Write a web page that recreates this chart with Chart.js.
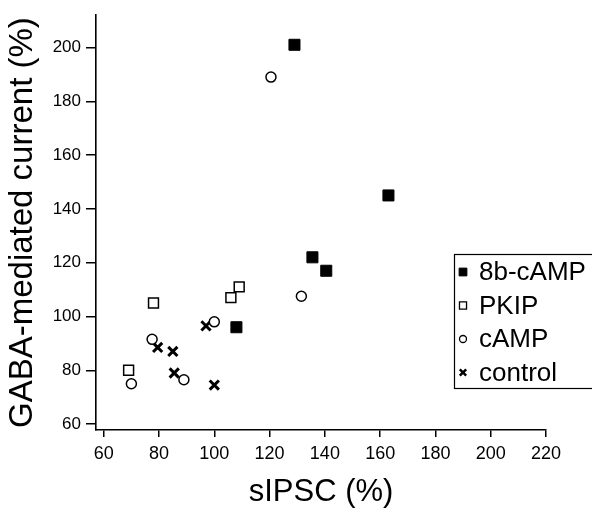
<!DOCTYPE html>
<html>
<head>
<meta charset="utf-8">
<script src="https://cdn.jsdelivr.net/npm/chart.js"></script>
<style>
  body { margin: 0; background: #fff; }
  #wrap { width: 592px; height: 512px; position: relative; }
</style>
</head>
<body>
<div id="wrap"><canvas id="chart"></canvas></div>
<script>
// values
const seriesNames = ["8b-cAMP", "PKIP", "cAMP", "control"];
const camp8bX = [129, 163, 135.5, 140.5, 108];
const camp8bY = [201, 145, 122, 117, 96];
const pkipX = [69, 78, 106, 109];
const pkipY = [80, 105, 107, 111];
const campX = [120.5, 70, 77.5, 89, 100, 131.5];
const campY = [189, 75, 91.5, 76.5, 98, 107.5];
const controlX = [79.5, 85, 85.5, 97, 100];
const controlY = [88.5, 87, 79, 96.5, 74.5];
const xTicks = [60, 80, 100, 120, 140, 160, 180, 200, 220];
const yTicks = [60, 80, 100, 120, 140, 160, 180, 200];

const FONT = "'Liberation Sans', Arial, Helvetica, sans-serif";

function pairs(xs, ys) {
  return xs.map((x, i) => ({ x: x, y: ys[i] }));
}

// legend drawn inside the plot, boxed, like the original (right edge runs off the page)
const boxLegend = {
  id: "boxLegend",
  afterDraw(chart) {
    const ctx = chart.ctx;
    const left = 454, top = 254, right = 596, bottom = 389;
    ctx.save();
    ctx.fillStyle = "#fff";
    ctx.fillRect(left, top, right - left, bottom - top);
    ctx.strokeStyle = "#000";
    ctx.lineWidth = 1.2;
    ctx.strokeRect(left + 0.5, top + 0.5, right - left - 1, bottom - top - 1);

    chart.data.datasets.forEach((ds, i) => {
      const y = top + 18 + i * 33.5;
      ctx.fillStyle = ds.backgroundColor;
      ctx.strokeStyle = ds.borderColor;
      ctx.lineWidth = ds.legendBorder;
      Chart.helpers.drawPoint(ctx, {
        pointStyle: ds.pointStyle,
        radius: ds.legendRadius,
        rotation: 0,
        borderWidth: ds.legendBorder
      }, 463, y);

      ctx.fillStyle = "#000";
      ctx.font = "26px " + FONT;
      ctx.textAlign = "left";
      ctx.textBaseline = "middle";
      ctx.fillText(ds.label, 479, y + 1);
    });
    ctx.restore();
  }
};

new Chart(document.getElementById("chart"), {
  type: "scatter",
  data: {
    datasets: [
      {
        label: seriesNames[0],
        data: pairs(camp8bX, camp8bY),
        pointStyle: "rect",
        pointRadius: 7.8,
        borderWidth: 1,
        borderColor: "#000",
        backgroundColor: "#000",
        legendRadius: 5.5,
        legendBorder: 1
      },
      {
        label: seriesNames[1],
        data: pairs(pkipX, pkipY),
        pointStyle: "rect",
        pointRadius: 7,
        borderWidth: 1.5,
        borderColor: "#000",
        backgroundColor: "#fff",
        legendRadius: 5,
        legendBorder: 1.3
      },
      {
        label: seriesNames[2],
        data: pairs(campX, campY),
        pointStyle: "circle",
        pointRadius: 5,
        borderWidth: 1.5,
        borderColor: "#000",
        backgroundColor: "#fff",
        legendRadius: 3.5,
        legendBorder: 1.3
      },
      {
        label: seriesNames[3],
        data: pairs(controlX, controlY),
        pointStyle: "crossRot",
        pointRadius: 6.5,
        borderWidth: 3,
        borderColor: "#000",
        backgroundColor: "#000",
        legendRadius: 4.5,
        legendBorder: 2.5
      }
    ]
  },
  options: {
    responsive: true,
    maintainAspectRatio: false,
    animation: false,
    devicePixelRatio: 1,
    layout: { padding: { top: 7, right: 46, left: 0, bottom: 0 } },
    plugins: {
      legend: { display: false },
      tooltip: { enabled: false }
    },
    scales: {
      x: {
        type: "linear",
        min: 57.2,
        max: 220,
        afterBuildTicks: (s) => { s.ticks = xTicks.map(v => ({ value: v })); },
        afterFit: (s) => { s.height = 82; },
        grid: { display: true, drawOnChartArea: false, drawTicks: true, tickLength: 7, color: "#000", lineWidth: 1.5 },
        border: { display: true, color: "#000", width: 1.6 },
        ticks: { color: "#000", padding: 6, maxRotation: 0, font: { family: FONT, size: 18 } },
        title: {
          display: true,
          text: "sIPSC (%)",
          color: "#000",
          font: { family: FONT, size: 31 },
          padding: { top: 0, bottom: 1 }
        }
      },
      y: {
        type: "linear",
        min: 57.8,
        max: 212,
        afterBuildTicks: (s) => { s.ticks = yTicks.map(v => ({ value: v })); },
        afterFit: (s) => { s.width = 96; },
        grid: { display: true, drawOnChartArea: false, drawTicks: true, tickLength: 10, color: "#000", lineWidth: 1.5 },
        border: { display: true, color: "#000", width: 1.6 },
        ticks: { color: "#000", padding: 5, font: { family: FONT, size: 17 } },
        title: {
          display: true,
          text: "GABA-mediated current (%)",
          color: "#000",
          font: { family: FONT, size: 33 },
          padding: { top: 3, bottom: 0 }
        }
      }
    }
  },
  plugins: [boxLegend]
});
</script>
</body>
</html>
